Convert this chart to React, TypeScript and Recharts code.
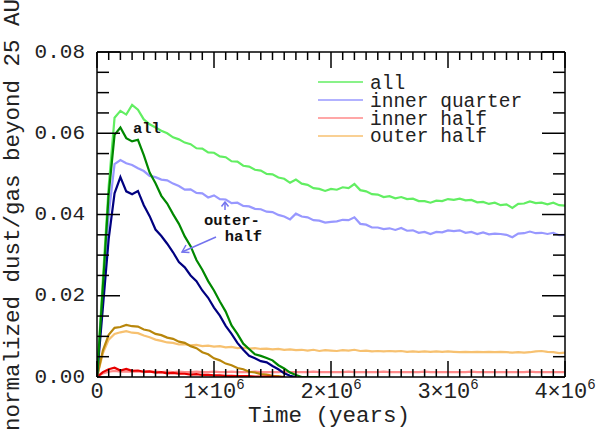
import React from 'react';
import { LineChart, Line, XAxis, YAxis, ReferenceLine } from 'recharts';

// time grid in kyr (50 kyr steps)
const timeKyr = [
  0, 50, 100, 150, 200, 250, 300, 350, 400, 450,
  500, 550, 600, 650, 700, 750, 800, 850, 900, 950,
  1000, 1050, 1100, 1150, 1200, 1250, 1300, 1350, 1400, 1450,
  1500, 1550, 1600, 1650, 1700, 1750, 1800, 1850, 1900, 1950,
  2000, 2050, 2100, 2150, 2200, 2250, 2300, 2350, 2400, 2450,
  2500, 2550, 2600, 2650, 2700, 2750, 2800, 2850, 2900, 2950,
  3000, 3050, 3100, 3150, 3200, 3250, 3300, 3350, 3400, 3450,
  3500, 3550, 3600, 3650, 3700, 3750, 3800, 3850, 3900, 3950,
  4000,
];

// light curves (legend)
const lightAll = [
  0, 0.0240, 0.0470, 0.0638, 0.0655, 0.0646, 0.0670, 0.0658, 0.0634, 0.0622,
  0.0614, 0.0606, 0.0600, 0.0590, 0.0585, 0.0577, 0.0573, 0.0563, 0.0562, 0.0553,
  0.0552, 0.0543, 0.0541, 0.0531, 0.0530, 0.0520, 0.0518, 0.0510, 0.0508, 0.0500,
  0.0499, 0.0491, 0.0488, 0.0478, 0.0486, 0.0476, 0.0473, 0.0465, 0.0463, 0.0458,
  0.0463, 0.0461, 0.0467, 0.0465, 0.0475, 0.0460, 0.0457, 0.0450, 0.0449, 0.0443,
  0.0445, 0.0440, 0.0443, 0.0438, 0.0439, 0.0433, 0.0433, 0.0429, 0.0434, 0.0433,
  0.0438, 0.0436, 0.0439, 0.0435, 0.0436, 0.0430, 0.0431, 0.0426, 0.0429, 0.0423,
  0.0425, 0.0416, 0.0426, 0.0427, 0.0432, 0.0428, 0.0429, 0.0425, 0.0429, 0.0423,
  0.0422,
];
const lightInnerQuarter = [
  0, 0.0200, 0.0400, 0.0524, 0.0534, 0.0526, 0.0522, 0.0514, 0.0507, 0.0495,
  0.0492, 0.0486, 0.0484, 0.0476, 0.0470, 0.0461, 0.0462, 0.0453, 0.0452, 0.0442,
  0.0447, 0.0438, 0.0437, 0.0428, 0.0429, 0.0421, 0.0420, 0.0414, 0.0413, 0.0407,
  0.0406, 0.0399, 0.0395, 0.0388, 0.0402, 0.0395, 0.0393, 0.0386, 0.0385, 0.0380,
  0.0382, 0.0383, 0.0387, 0.0386, 0.0393, 0.0377, 0.0375, 0.0368, 0.0368, 0.0364,
  0.0366, 0.0362, 0.0367, 0.0360, 0.0361, 0.0355, 0.0357, 0.0352, 0.0357, 0.0356,
  0.0361, 0.0359, 0.0361, 0.0355, 0.0357, 0.0352, 0.0356, 0.0351, 0.0353, 0.0352,
  0.0350, 0.0344, 0.0353, 0.0354, 0.0358, 0.0354, 0.0355, 0.0352, 0.0355, 0.0349,
  0.0350,
];
const lightInnerHalf = [
  0, 0.0009, 0.0013, 0.0015, 0.0013, 0.0014, 0.0013, 0.0014, 0.0012, 0.0013,
  0.0013, 0.0012, 0.0013, 0.0012, 0.0013, 0.0012, 0.0012, 0.0013, 0.0012, 0.0012,
  0.0013, 0.0012, 0.0012, 0.0013, 0.0012, 0.0012, 0.0012, 0.0013, 0.0012, 0.0012,
  0.0012, 0.0012, 0.0013, 0.0012, 0.0012, 0.0012, 0.0012, 0.0013, 0.0012, 0.0012,
  0.0012, 0.0012, 0.0012, 0.0013, 0.0012, 0.0012, 0.0012, 0.0012, 0.0012, 0.0013,
  0.0012, 0.0012, 0.0012, 0.0012, 0.0012, 0.0012, 0.0013, 0.0012, 0.0012, 0.0012,
  0.0012, 0.0012, 0.0012, 0.0012, 0.0013, 0.0012, 0.0012, 0.0012, 0.0012, 0.0012,
  0.0012, 0.0012, 0.0012, 0.0012, 0.0013, 0.0012, 0.0012, 0.0012, 0.0012, 0.0012,
  0.0012,
];
const lightOuterHalf = [
  0, 0.0058, 0.0092, 0.0106, 0.0110, 0.0113, 0.0109, 0.0108, 0.0102, 0.0098,
  0.0092, 0.0089, 0.0085, 0.0084, 0.0080, 0.0081, 0.0078, 0.0079, 0.0076, 0.0077,
  0.0075, 0.0076, 0.0073, 0.0074, 0.0071, 0.0072, 0.0070, 0.0071, 0.0069, 0.0070,
  0.0068, 0.0069, 0.0067, 0.0068, 0.0066, 0.0067, 0.0065, 0.0067, 0.0064, 0.0066,
  0.0065, 0.0064, 0.0066, 0.0065, 0.0067, 0.0064, 0.0065, 0.0063, 0.0064, 0.0063,
  0.0064, 0.0063, 0.0064, 0.0062, 0.0063, 0.0062, 0.0063, 0.0062, 0.0063, 0.0062,
  0.0063, 0.0062, 0.0061, 0.0062, 0.0061, 0.0062, 0.0061, 0.0062, 0.0061, 0.0062,
  0.0061, 0.0060, 0.0061, 0.0060, 0.0061, 0.0063, 0.0064, 0.0062, 0.0061, 0.0059,
  0.0060,
];

// dark curves (stop once they reach zero)
const darkAll = [
  0, 0.0220, 0.0450, 0.0596, 0.0614, 0.0588, 0.0580, 0.0584, 0.0546, 0.0503,
  0.0477, 0.0446, 0.0427, 0.0401, 0.0377, 0.0346, 0.0322, 0.0288, 0.0264, 0.0236,
  0.0213, 0.0186, 0.0161, 0.0127, 0.0106, 0.0082, 0.0069, 0.0056, 0.0052, 0.0047,
  0.0041, 0.0029, 0.0021, 0.0011, 0.0005, 0, 0, 0, 0, 0,
  0,
];
const darkInnerQuarter = [
  0, 0.0170, 0.0340, 0.0452, 0.0492, 0.0457, 0.0450, 0.0458, 0.0423, 0.0396,
  0.0363, 0.0347, 0.0328, 0.0307, 0.0283, 0.0270, 0.0250, 0.0236, 0.0213, 0.0195,
  0.0171, 0.0151, 0.0126, 0.0106, 0.0084, 0.0067, 0.0052, 0.0046, 0.0039, 0.0036,
  0.0027, 0.0019, 0.0009, 0.0003, 0,
];
const darkInnerHalf = [
  0, 0.0012, 0.0019, 0.0023, 0.0016, 0.0020, 0.0015, 0.0016, 0.0013, 0.0014,
  0.0011, 0.0012, 0.0009, 0.0010, 0.0008, 0.0008, 0.0006, 0.0007, 0.0005, 0.0005,
  0.0004, 0.0004, 0.0003, 0.0003, 0.0002, 0.0002, 0.0002, 0.0001, 0.0001, 0.0001,
  0.0001, 0, 0,
];
const darkOuterHalf = [
  0, 0.0065, 0.0104, 0.0121, 0.0123, 0.0128, 0.0125, 0.0124, 0.0117, 0.0114,
  0.0106, 0.0103, 0.0097, 0.0094, 0.0087, 0.0084, 0.0076, 0.0071, 0.0061, 0.0056,
  0.0046, 0.0041, 0.0033, 0.0029, 0.0022, 0.0019, 0.0013, 0.0011, 0.0007, 0.0006,
  0.0003, 0.0002, 0,
];

const xMajor = [0, 1000000, 2000000, 3000000, 4000000];
const xLabels = ['0', '1×10', '2×10', '3×10', '4×10'];
const yMajor = [0, 0.02, 0.04, 0.06, 0.08];
const yLabels = ['0.00', '0.02', '0.04', '0.06', '0.08'];

const series = [
  { key: 'lightAll', name: 'all', color: '#62ee62', values: lightAll, legend: true },
  { key: 'lightInnerQuarter', name: 'inner quarter', color: '#9898ff', values: lightInnerQuarter, legend: true },
  { key: 'lightInnerHalf', name: 'inner half', color: '#ff8a8a', values: lightInnerHalf, legend: true },
  { key: 'lightOuterHalf', name: 'outer half', color: '#f7c170', values: lightOuterHalf, legend: true },
  { key: 'darkOuterHalf', name: 'outer half (dark)', color: '#b8860b', values: darkOuterHalf, legend: false },
  { key: 'darkInnerHalf', name: 'inner half (dark)', color: '#e80000', values: darkInnerHalf, legend: false },
  { key: 'darkInnerQuarter', name: 'inner quarter (dark)', color: '#000080', values: darkInnerQuarter, legend: false },
  { key: 'darkAll', name: 'all (dark)', color: '#008800', values: darkAll, legend: false },
];

const data = timeKyr.map((t, i) => {
  const row: Record<string, number | null> = { t: t * 1000 };
  series.forEach((s) => {
    row[s.key] = i < s.values.length ? s.values[i] : null;
  });
  return row;
});

// minor ticks every 1e5 yr and every 0.005
const xTicks: number[] = [];
for (let i = 0; i <= 40; i++) xTicks.push(i * 100000);
const yTicks: number[] = [];
for (let i = 0; i <= 16; i++) yTicks.push(Math.round(i * 5) / 1000);

const PLOT_W = 468;
const PLOT_H = 325;
const FONT = "'Liberation Mono', 'DejaVu Sans Mono', monospace";

const majorIndex = (arr: number[], v: number) =>
  arr.findIndex((m) => Math.abs(m - v) < 1e-9 * Math.max(1, Math.abs(m)));

// bottom axis tick + mirrored tick on the top edge
const BottomTick = (props: any) => {
  const { x, y, payload } = props;
  const idx = majorIndex(xMajor, payload.value);
  const major = idx >= 0;
  const len = major ? 16 : 8;
  return (
    <g>
      <line x1={x} y1={y} x2={x} y2={y - len} stroke="#000" strokeWidth={1.5} />
      <line x1={x} y1={y - PLOT_H} x2={x} y2={y - PLOT_H + len} stroke="#000" strokeWidth={1.5} />
      {major && (
        <text x={x} y={y + 21} textAnchor="middle" fontFamily={FONT} fontSize={22} fill="#222">
          <tspan>{xLabels[idx]}</tspan>
          {idx > 0 && (
            <tspan dy={-9} fontSize={14}>
              6
            </tspan>
          )}
        </text>
      )}
    </g>
  );
};

// left axis tick + mirrored tick on the right edge
const LeftTick = (props: any) => {
  const { x, y, payload } = props;
  const idx = majorIndex(yMajor, payload.value);
  const major = idx >= 0;
  const len = major ? 23 : 12;
  return (
    <g>
      <line x1={x} y1={y} x2={x + len} y2={y} stroke="#000" strokeWidth={1.5} />
      <line x1={x + PLOT_W} y1={y} x2={x + PLOT_W - len} y2={y} stroke="#000" strokeWidth={1.5} />
      {major && (
        <text x={x - 12} y={y} textAnchor="end" dominantBaseline="central" fontFamily={FONT} fontSize={21} fill="#222">
          {yLabels[idx]}
        </text>
      )}
    </g>
  );
};

const legendRows = [
  { lineY: 82, textY: 89 },
  { lineY: 100, textY: 107 },
  { lineY: 118, textY: 125 },
  { lineY: 136, textY: 142 },
];

const arrowColor = '#7373ee';

export default function App() {
  const axisLine = { stroke: '#000', strokeWidth: 1.5 };
  const legendSeries = series.filter((s) => s.legend);
  return (
    <div style={{ position: 'absolute', left: 0, top: 0, width: 600, height: 433, background: '#fff' }}>
      <LineChart width={600} height={433} data={data} margin={{ top: 52, right: 35, bottom: 0, left: 0 }}>
        <XAxis
          xAxisId="b"
          dataKey="t"
          type="number"
          domain={[0, 4000000]}
          allowDataOverflow
          ticks={xTicks}
          interval={0}
          height={56}
          tickSize={0}
          tickMargin={0}
          axisLine={axisLine}
          tickLine={false}
          tick={<BottomTick />}
        />
        <YAxis
          yAxisId="l"
          type="number"
          domain={[0, 0.08]}
          allowDataOverflow
          ticks={yTicks}
          interval={0}
          width={97}
          tickSize={0}
          tickMargin={0}
          axisLine={axisLine}
          tickLine={false}
          tick={<LeftTick />}
        />
        {series.map((s) => (
          <Line
            key={s.key}
            xAxisId="b"
            yAxisId="l"
            type="linear"
            dataKey={s.key}
            name={s.name}
            stroke={s.color}
            strokeWidth={2.2}
            dot={false}
            activeDot={false}
            connectNulls={false}
            isAnimationActive={false}
          />
        ))}
        <ReferenceLine xAxisId="b" yAxisId="l" y={0.08} stroke="#000" strokeWidth={1.5} />
        <ReferenceLine xAxisId="b" yAxisId="l" x={4000000} stroke="#000" strokeWidth={1.5} />
      </LineChart>
      <svg
        width={600}
        height={433}
        style={{ position: 'absolute', left: 0, top: 0, pointerEvents: 'none' }}
      >
        <text
          transform="translate(13,215) rotate(-90)"
          textAnchor="middle"
          dominantBaseline="central"
          fontFamily={FONT}
          fontSize={22.5}
          fill="#222"
        >
          normalized dust/gas beyond 25 AU
        </text>
        <text x={329} y={422} textAnchor="middle" fontFamily={FONT} fontSize={22.5} fill="#222">
          Time (years)
        </text>
        {legendSeries.map((s, i) => (
          <g key={s.key}>
            <line x1={318} x2={363} y1={legendRows[i].lineY} y2={legendRows[i].lineY} stroke={s.color} strokeWidth={1.5} />
            <text x={370} y={legendRows[i].textY} fontFamily={FONT} fontSize={19.5} fill="#222">
              {s.name}
            </text>
          </g>
        ))}
        <text x={133} y={133} fontFamily={FONT} fontSize={15.5} fontWeight="bold" fill="#111">
          all
        </text>
        <text x={204} y={225} fontFamily={FONT} fontSize={15.5} fontWeight="bold" fill="#111">
          outer-
        </text>
        <text x={262} y={241} textAnchor="end" fontFamily={FONT} fontSize={15.5} fontWeight="bold" fill="#111">
          half
        </text>
        <g stroke={arrowColor} strokeWidth={1.5} fill="none">
          <line x1={225} y1={210} x2={225} y2={202} />
          <polyline points="221.5,206.5 225,202 228.5,206.5" />
          <line x1={216} y1={237} x2={182} y2={252} />
          <polyline points="186,245 182,252 189.5,252.5" />
        </g>
      </svg>
    </div>
  );
}
